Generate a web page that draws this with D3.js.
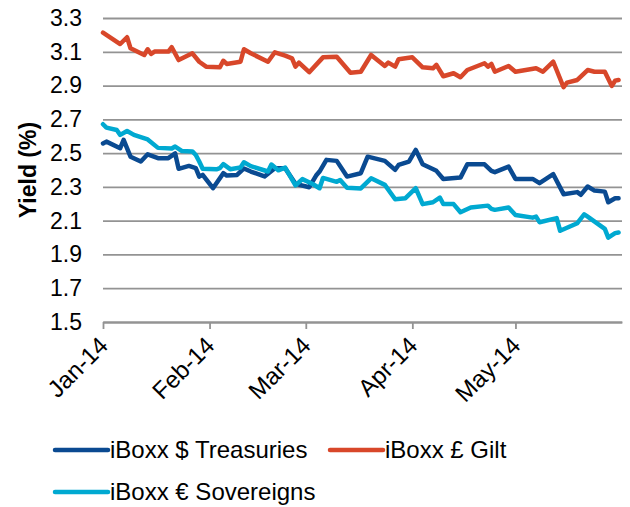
<!DOCTYPE html>
<html>
<head>
<meta charset="utf-8">
<script src="https://cdn.jsdelivr.net/npm/d3@7"></script>
<style>
  html, body { margin: 0; padding: 0; background: #fff; }
  svg { display: block; font-family: "Liberation Sans", Arial, sans-serif; }
</style>
</head>
<body>
<svg id="chart" width="630" height="507"></svg>
<script>
// Yield series, [date, yield %]
const treasuries = [
  ["2014-01-01", 2.557], ["2014-01-02", 2.568], ["2014-01-06", 2.529], ["2014-01-07", 2.578],
  ["2014-01-09", 2.479], ["2014-01-12", 2.450], ["2014-01-14", 2.493], ["2014-01-17", 2.470],
  ["2014-01-20", 2.470], ["2014-01-22", 2.498], ["2014-01-23", 2.407], ["2014-01-26", 2.424],
  ["2014-01-28", 2.411], ["2014-01-29", 2.361], ["2014-01-30", 2.371], ["2014-02-02", 2.292],
  ["2014-02-05", 2.381], ["2014-02-06", 2.367], ["2014-02-09", 2.371], ["2014-02-11", 2.409],
  ["2014-02-13", 2.391], ["2014-02-17", 2.362], ["2014-02-20", 2.411], ["2014-02-23", 2.411],
  ["2014-02-26", 2.318], ["2014-03-02", 2.298], ["2014-03-04", 2.367], ["2014-03-05", 2.391],
  ["2014-03-07", 2.460], ["2014-03-10", 2.454], ["2014-03-13", 2.361], ["2014-03-17", 2.381],
  ["2014-03-19", 2.479], ["2014-03-24", 2.454], ["2014-03-27", 2.401], ["2014-03-28", 2.430],
  ["2014-03-31", 2.450], ["2014-04-02", 2.519], ["2014-04-04", 2.434], ["2014-04-08", 2.395],
  ["2014-04-10", 2.347], ["2014-04-15", 2.355], ["2014-04-17", 2.434], ["2014-04-22", 2.434],
  ["2014-04-24", 2.395], ["2014-04-25", 2.387], ["2014-04-29", 2.420], ["2014-05-01", 2.347],
  ["2014-05-06", 2.347], ["2014-05-08", 2.322], ["2014-05-12", 2.375], ["2014-05-15", 2.257],
  ["2014-05-19", 2.269], ["2014-05-20", 2.253], ["2014-05-22", 2.302], ["2014-05-24", 2.278],
  ["2014-05-27", 2.272], ["2014-05-28", 2.209], ["2014-05-30", 2.233], ["2014-05-31", 2.233]
];

const gilt = [
  ["2014-01-01", 3.213], ["2014-01-06", 3.146], ["2014-01-08", 3.186], ["2014-01-09", 3.121],
  ["2014-01-13", 3.081], ["2014-01-14", 3.115], ["2014-01-15", 3.087], ["2014-01-16", 3.101],
  ["2014-01-20", 3.101], ["2014-01-21", 3.127], ["2014-01-23", 3.051], ["2014-01-27", 3.091],
  ["2014-01-29", 3.041], ["2014-01-31", 3.012], ["2014-02-04", 3.008], ["2014-02-05", 3.047],
  ["2014-02-06", 3.028], ["2014-02-10", 3.041], ["2014-02-11", 3.115], ["2014-02-13", 3.091],
  ["2014-02-18", 3.041], ["2014-02-20", 3.097], ["2014-02-23", 3.077], ["2014-02-25", 3.061],
  ["2014-02-26", 3.012], ["2014-02-27", 3.036], ["2014-03-02", 2.979], ["2014-03-06", 3.067],
  ["2014-03-10", 3.071], ["2014-03-14", 2.976], ["2014-03-17", 2.982], ["2014-03-20", 3.081],
  ["2014-03-24", 3.016], ["2014-03-25", 3.036], ["2014-03-27", 3.012], ["2014-03-28", 3.056],
  ["2014-04-01", 3.067], ["2014-04-04", 3.008], ["2014-04-07", 3.002], ["2014-04-08", 3.022],
  ["2014-04-10", 2.955], ["2014-04-13", 2.973], ["2014-04-15", 2.949], ["2014-04-17", 2.992],
  ["2014-04-22", 3.032], ["2014-04-23", 3.012], ["2014-04-24", 3.028], ["2014-04-25", 2.982],
  ["2014-04-29", 3.016], ["2014-05-01", 2.982], ["2014-05-07", 3.002], ["2014-05-09", 2.982],
  ["2014-05-12", 3.041], ["2014-05-15", 2.890], ["2014-05-16", 2.917], ["2014-05-19", 2.933],
  ["2014-05-22", 2.992], ["2014-05-24", 2.982], ["2014-05-27", 2.982], ["2014-05-29", 2.898],
  ["2014-05-30", 2.929], ["2014-05-31", 2.933]
];

const sovereigns = [
  ["2014-01-01", 2.671], ["2014-01-02", 2.651], ["2014-01-05", 2.637], ["2014-01-06", 2.608],
  ["2014-01-08", 2.631], ["2014-01-10", 2.608], ["2014-01-14", 2.581], ["2014-01-17", 2.531],
  ["2014-01-21", 2.527], ["2014-01-22", 2.539], ["2014-01-24", 2.512], ["2014-01-27", 2.510],
  ["2014-01-28", 2.489], ["2014-01-29", 2.450], ["2014-01-30", 2.407], ["2014-02-03", 2.404],
  ["2014-02-04", 2.411], ["2014-02-05", 2.435], ["2014-02-07", 2.405], ["2014-02-10", 2.415],
  ["2014-02-11", 2.446], ["2014-02-13", 2.423], ["2014-02-18", 2.391], ["2014-02-19", 2.432],
  ["2014-02-21", 2.398], ["2014-02-23", 2.414], ["2014-02-26", 2.309], ["2014-02-28", 2.346],
  ["2014-03-03", 2.317], ["2014-03-05", 2.292], ["2014-03-06", 2.353], ["2014-03-10", 2.330],
  ["2014-03-11", 2.341], ["2014-03-13", 2.295], ["2014-03-17", 2.291], ["2014-03-20", 2.351],
  ["2014-03-24", 2.312], ["2014-03-27", 2.227], ["2014-03-30", 2.233], ["2014-04-02", 2.292],
  ["2014-04-04", 2.198], ["2014-04-07", 2.209], ["2014-04-09", 2.237], ["2014-04-10", 2.199],
  ["2014-04-13", 2.198], ["2014-04-15", 2.150], ["2014-04-18", 2.178], ["2014-04-23", 2.189],
  ["2014-04-24", 2.170], ["2014-04-25", 2.164], ["2014-04-29", 2.178], ["2014-05-01", 2.134],
  ["2014-05-06", 2.118], ["2014-05-07", 2.124], ["2014-05-08", 2.091], ["2014-05-13", 2.115],
  ["2014-05-14", 2.040], ["2014-05-19", 2.085], ["2014-05-21", 2.138], ["2014-05-22", 2.124],
  ["2014-05-27", 2.051], ["2014-05-28", 2.000], ["2014-05-30", 2.026], ["2014-05-31", 2.030]
];

const seriesNames = ["iBoxx $ Treasuries", "iBoxx £ Gilt", "iBoxx € Sovereigns"];
const seriesColors = ["#0a4a91", "#d8472a", "#00a9d1"];
const yTicks = [1.5, 1.7, 1.9, 2.1, 2.3, 2.5, 2.7, 2.9, 3.1, 3.3];
const monthTicks = ["2014-01-01", "2014-02-01", "2014-03-01", "2014-04-01", "2014-05-01"];
const yTitle = "Yield (%)";

const parse = d3.timeParse("%Y-%m-%d");
const svg = d3.select("#chart");
const fontFamily = "'Liberation Sans', Arial, sans-serif";

const plot = { left: 103, right: 622, top: 18, bottom: 322 };

const x = d3.scaleTime()
  .domain([parse("2014-01-01"), parse("2014-06-01")])
  .range([plot.left, plot.right]);
const y = d3.scaleLinear()
  .domain([1.5, 3.3])
  .range([plot.bottom, plot.top]);

// horizontal gridlines
const grid = svg.append("g")
  .attr("transform", `translate(${plot.left},0)`)
  .call(d3.axisLeft(y).tickValues(yTicks).tickSize(-(plot.right - plot.left)).tickFormat(""));
grid.select(".domain").remove();
grid.selectAll("line").attr("stroke", "#939393").attr("stroke-width", 1.8);

// y tick labels
const yAxis = svg.append("g")
  .attr("transform", `translate(${plot.left},0)`)
  .call(d3.axisLeft(y).tickValues(yTicks).tickSize(0).tickPadding(21).tickFormat(d3.format(".1f")));
yAxis.select(".domain").remove();
yAxis.selectAll("text")
  .attr("font-size", 23).attr("fill", "#000")
  .attr("font-family", fontFamily);

// x axis with month ticks
const xAxis = svg.append("g")
  .attr("transform", `translate(0,${plot.bottom})`)
  .call(d3.axisBottom(x)
    .tickValues(monthTicks.map(parse))
    .tickSize(7)
    .tickSizeOuter(0)
    .tickFormat(d3.timeFormat("%b-%y")));
xAxis.select(".domain").attr("stroke", "#939393").attr("stroke-width", 1.8);
xAxis.selectAll(".tick line").attr("stroke", "#939393").attr("stroke-width", 1.8);
xAxis.selectAll("text")
  .attr("font-size", 24).attr("fill", "#000")
  .attr("font-family", fontFamily)
  .attr("text-anchor", "end")
  .attr("dy", null)
  .attr("y", 0)
  .attr("transform", "translate(6,25) rotate(-45)");

// y axis title
svg.append("text")
  .attr("transform", `translate(36,${(plot.top + plot.bottom) / 2}) rotate(-90)`)
  .attr("text-anchor", "middle")
  .attr("font-size", 23)
  .attr("font-weight", "bold")
  .attr("font-family", fontFamily)
  .text(yTitle);

// series lines
const line = d3.line()
  .x(d => x(parse(d[0])))
  .y(d => y(d[1]));

[treasuries, gilt, sovereigns].forEach((s, i) => {
  svg.append("path")
    .datum(s)
    .attr("fill", "none")
    .attr("stroke", seriesColors[i])
    .attr("stroke-width", 4.5)
    .attr("stroke-linejoin", "round")
    .attr("stroke-linecap", "round")
    .attr("d", line);
});

// legend
const legendPos = [[55, 450], [330, 450], [55, 492]];
const legend = svg.append("g");
seriesNames.forEach((name, i) => {
  const [lx, ly] = legendPos[i];
  legend.append("line")
    .attr("x1", lx).attr("x2", lx + 53)
    .attr("y1", ly).attr("y2", ly)
    .attr("stroke", seriesColors[i])
    .attr("stroke-width", 4.5)
    .attr("stroke-linecap", "round");
  legend.append("text")
    .attr("x", lx + 55)
    .attr("y", ly)
    .attr("dy", "0.35em")
    .attr("font-size", 24)
    .attr("font-family", fontFamily)
    .text(name);
});
</script>
</body>
</html>
